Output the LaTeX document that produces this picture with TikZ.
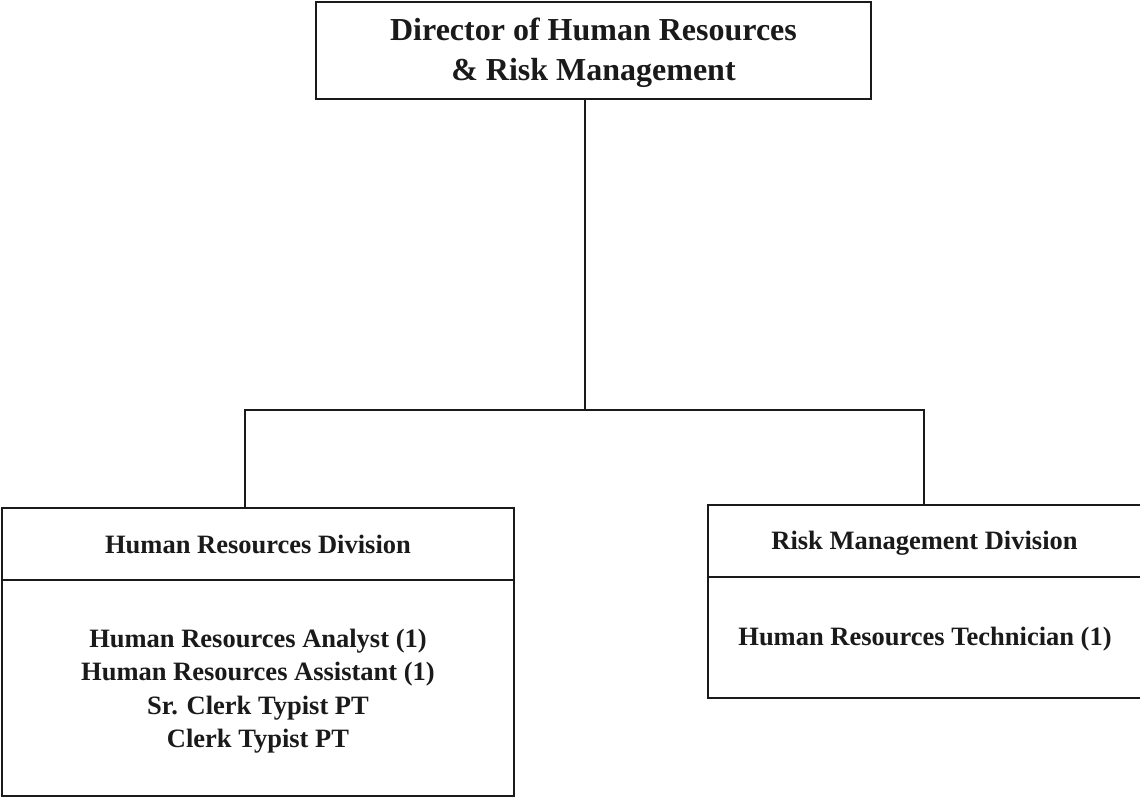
\documentclass[tikz,border=0pt]{standalone}
\usepackage{fontspec}
\setmainfont{Liberation Serif}
\begin{document}
\begin{tikzpicture}[x=1pt,y=-1pt,
  box/.style={draw=ink, line width=1.9pt, inner sep=0pt, align=center,
    text=ink, font=\bfseries},
  wire/.style={draw=ink, line width=1.9pt},
  bigtext/.style={font=\bfseries\fontsize{32}{40}\selectfont},
  midtext/.style={font=\bfseries\fontsize{26.5}{33.5}\selectfont}]
\definecolor{ink}{HTML}{1A1A1A}
\clip (0,0) rectangle (1140,798);
\fill[white] (0,0) rectangle (1140,798);

% director
\node[box, bigtext, minimum width=555pt, minimum height=97pt] (dir) at (593.5,50.5) {};
\node[bigtext, text=ink, align=center] (dirtext) at (593.5,53)
  {Director of Human Resources\\\& Risk Management};

% human resources division
\node[box, midtext, minimum width=512pt, minimum height=72pt] (hrhead) at (258,544)
  {Human Resources Division};
\node[box, midtext, minimum width=512pt, minimum height=216pt] (hrbody) at (258,688) {};
\node[midtext, text=ink, align=center] (hrlist) at (258,691)
  {Human Resources Analyst (1)\\Human Resources Assistant (1)\\Sr. Clerk Typist PT\\Clerk Typist PT};

% risk management division
\node[box, midtext, minimum width=433pt, minimum height=72pt] (rmhead) at (924.5,541) {};
\node[midtext, text=ink] (rmtitle) at (924.5,543) {Risk Management Division};
\node[box, midtext, minimum width=433pt, minimum height=121pt] (rmbody) at (924.5,637.5) {};
\node[midtext, text=ink] (rmlist) at (925,639) {Human Resources Technician (1)};

% connectors
\coordinate (jt) at (585,410);
\coordinate (jl) at (245,410);
\coordinate (jr) at (924,410);
\draw[wire] (dir.south -| jt) -- (jt);
\draw[wire, line cap=rect] (jl) -- (jr);
\draw[wire] (jl) -- (hrhead.north -| jl);
\draw[wire] (jr) -- (rmhead.north -| jr);
\end{tikzpicture}
\end{document}
